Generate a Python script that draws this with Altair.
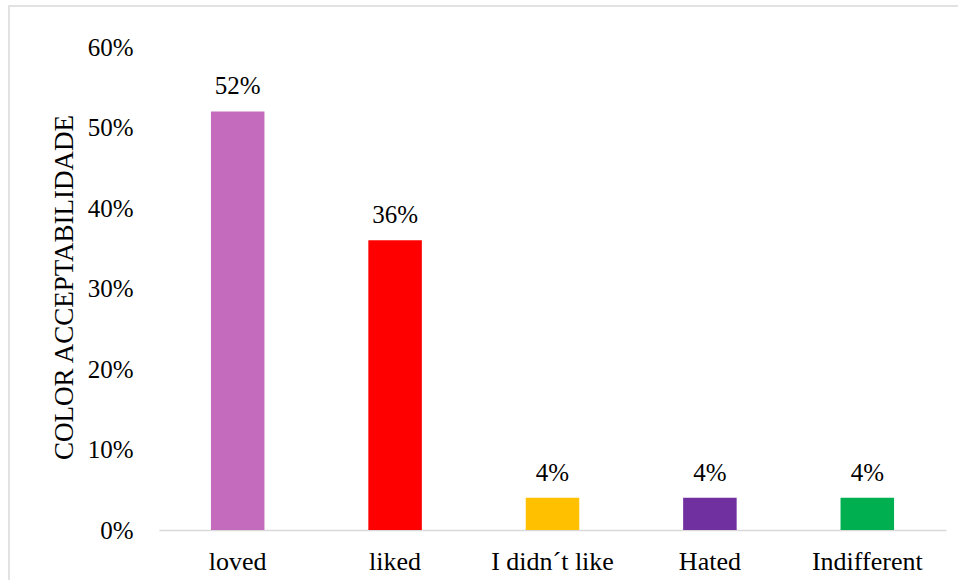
import altair as alt
import pandas as pd

categories = ["loved", "liked", "I didn´t like", "Hated", "Indifferent"]
values = [0.52, 0.36, 0.04, 0.04, 0.04]
colors = ["#C46BBE", "#FF0000", "#FFC000", "#7030A0", "#00B050"]
y_ticks = [0, 0.1, 0.2, 0.3, 0.4, 0.5, 0.6]

df = pd.DataFrame({"category": categories, "value": values})
FONT = "Liberation Serif"

x = alt.X(
    "category:N",
    sort=categories,
    scale=alt.Scale(paddingInner=0.66, paddingOuter=0.33),
    axis=alt.Axis(
        title=None, labelAngle=0, ticks=False, domainColor="#D9D9D9",
        domainWidth=1.5, labelFont=FONT, labelFontSize=26, labelColor="#000000",
        labelPadding=18,
    ),
)
y = alt.Y(
    "value:Q",
    scale=alt.Scale(domain=[0, 0.6], nice=False),
    axis=alt.Axis(
        values=y_ticks, format=".0%", grid=False, domain=False, ticks=False,
        labelFont=FONT, labelFontSize=25, labelColor="#000000", labelPadding=26,
        title="COLOR ACCEPTABILIDADE", titleFont=FONT, titleFontSize=27,
        titleFontWeight="normal", titleColor="#000000", titleAngle=-90,
        titleX=-87, titleY=240, titleAlign="center", titleBaseline="alphabetic",
    ),
)

bars = alt.Chart(df).mark_bar().encode(
    x=x, y=y,
    color=alt.Color("category:N", scale=alt.Scale(domain=categories, range=colors), legend=None),
)
labels = alt.Chart(df).mark_text(
    font=FONT, fontSize=25, color="#000000", baseline="alphabetic", dy=-17
).encode(x=x, y=y, text=alt.Text("value:Q", format=".0%"))

border = alt.Chart(pd.DataFrame({"a": [0]})).mark_rect(
    fill=None, stroke="#D9D9D9", strokeWidth=1.5
).encode(x=alt.value(-150), x2=alt.value(900), y=alt.value(-41), y2=alt.value(600))

chart = alt.layer(border, bars, labels).properties(
    width=787, height=483,
    background="#FFFFFF",
    padding={"left": 159, "top": 47, "right": 12, "bottom": 50},
    autosize=alt.AutoSizeParams(type="none"),
).configure_view(strokeWidth=0)

chart.save("out.html", embed_options={"renderer": "svg", "actions": False})
